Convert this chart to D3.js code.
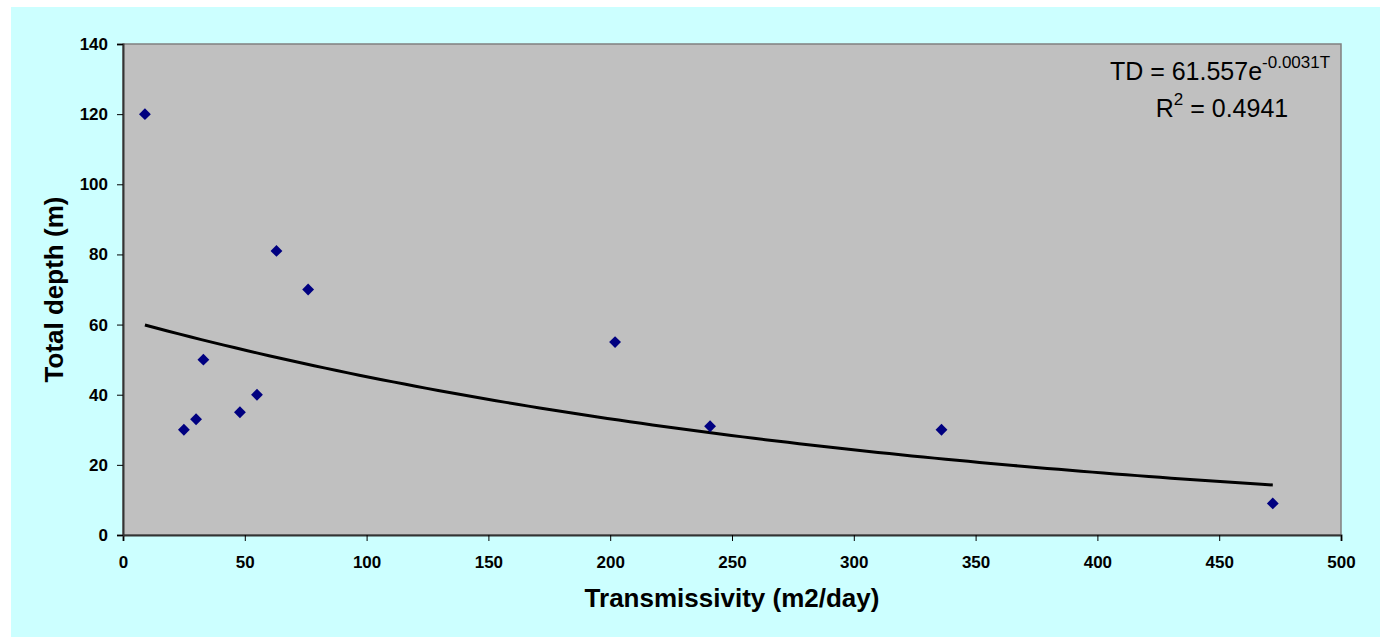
<!DOCTYPE html>
<html>
<head>
<meta charset="utf-8">
<script src="https://cdn.jsdelivr.net/npm/d3@7"></script>
<style>
  body { margin: 0; background: #ffffff; }
  text { font-family: Arial, "Liberation Sans", sans-serif; }
</style>
</head>
<body>
<div id="chart"></div>
<script>
// data
var transmissivity = [9, 25, 30, 33, 48, 55, 63, 76, 202, 241, 336, 472];
var totalDepth     = [120, 30, 33, 50, 35, 40, 81, 70, 55, 31, 30, 9];
var xTicks = [0, 50, 100, 150, 200, 250, 300, 350, 400, 450, 500];
var yTicks = [0, 20, 40, 60, 80, 100, 120, 140];
// exponential trendline TD = a * e^(b*T)
var trendA = 61.557, trendB = -0.0031;

var W = 1384, H = 637;
var margin = {top: 44, right: 43, bottom: 102, left: 123};
var width = W - margin.left - margin.right,
    height = H - margin.top - margin.bottom;

var svg = d3.select("#chart").append("svg")
    .attr("width", W)
    .attr("height", H);

// outer chart area
svg.append("rect")
    .attr("x", 11).attr("y", 7)
    .attr("width", 1369).attr("height", 630)
    .attr("fill", "#ccffff");

var g = svg.append("g")
    .attr("transform", "translate(" + margin.left + "," + margin.top + ")");

var x = d3.scaleLinear().domain([0, 500]).range([0, width]);
var y = d3.scaleLinear().domain([0, 140]).range([height, 0]);

// plot area
g.append("rect")
    .attr("width", width).attr("height", height)
    .attr("fill", "#c0c0c0")
    .attr("stroke", "#808080")
    .attr("stroke-width", 1.5);

var xAxis = g.append("g")
    .attr("transform", "translate(0," + height + ")")
    .call(d3.axisBottom(x).tickValues(xTicks).tickSize(6).tickPadding(15));
var yAxis = g.append("g")
    .call(d3.axisLeft(y).tickValues(yTicks).tickSize(6).tickPadding(9));

[xAxis, yAxis].forEach(function(a) {
  a.selectAll("text")
    .attr("font-size", "17px")
    .attr("font-weight", "bold")
    .attr("fill", "#000")
    .style("font-family", "Arial, 'Liberation Sans', sans-serif");
  a.selectAll("line").attr("stroke", "#000");
  a.select(".domain").attr("stroke", "#333").attr("stroke-width", 2);
});

// trendline from the fitted equation
var T0 = d3.min(transmissivity), T1 = d3.max(transmissivity);
var trend = d3.range(0, 101).map(function(i) {
  var t = T0 + (T1 - T0) * i / 100;
  return {t: t, v: trendA * Math.exp(trendB * t)};
});
g.append("path")
    .datum(trend)
    .attr("fill", "none")
    .attr("stroke", "#000")
    .attr("stroke-width", 3)
    .attr("d", d3.line()
      .x(function(d) { return x(d.t); })
      .y(function(d) { return y(d.v); }));

// points
var pts = transmissivity.map(function(t, i) { return {t: t, v: totalDepth[i]}; });
g.selectAll(".pt")
    .data(pts)
    .enter()
    .append("path")
      .attr("class", "pt")
      .attr("d", d3.symbol().type(d3.symbolSquare).size(70))
      .attr("fill", "#000080")
      .attr("transform", function(d) {
        return "translate(" + x(d.t) + "," + y(d.v) + ") rotate(45)";
      });

// equation label
var eq = g.append("text")
    .attr("text-anchor", "middle")
    .attr("x", 1220 - margin.left)
    .attr("y", 80 - margin.top)
    .attr("font-size", "25px")
    .attr("fill", "#000");
eq.append("tspan").text("TD = " + trendA + "e");
eq.append("tspan").attr("font-size", "17px").attr("dy", -12).text(trendB + "T");

var r2 = g.append("text")
    .attr("text-anchor", "middle")
    .attr("x", 1222 - margin.left)
    .attr("y", 117 - margin.top)
    .attr("font-size", "25px")
    .attr("fill", "#000");
r2.append("tspan").text("R");
r2.append("tspan").attr("font-size", "17px").attr("dy", -12).text("2");
r2.append("tspan").attr("dy", 12).text(" = 0.4941");

// axis titles
svg.append("text")
    .attr("text-anchor", "middle")
    .attr("x", margin.left + width / 2)
    .attr("y", 607)
    .attr("font-size", "26px")
    .attr("font-weight", "bold")
    .text("Transmissivity (m2/day)");

svg.append("text")
    .attr("text-anchor", "middle")
    .attr("transform", "translate(63," + (margin.top + height / 2) + ") rotate(-90)")
    .attr("font-size", "26px")
    .attr("font-weight", "bold")
    .text("Total depth (m)");
</script>
</body>
</html>
